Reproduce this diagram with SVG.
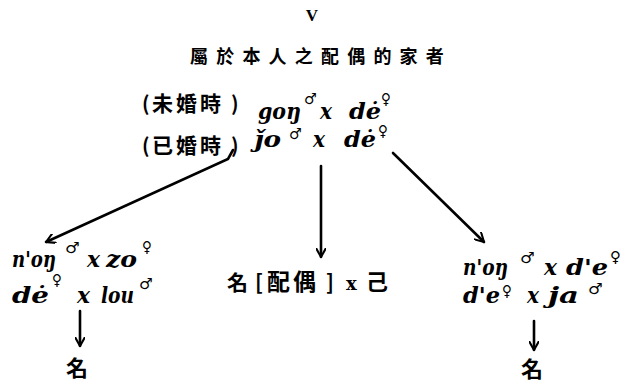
<svg xmlns="http://www.w3.org/2000/svg" width="623" height="383" viewBox="0 0 623 383">
<style>
.r{font-family:"DejaVu Serif",serif;font-style:italic;font-weight:bold;font-size:22px;fill:#000}
.s{font-family:"DejaVu Sans",sans-serif;font-weight:bold;font-size:15px;fill:#000}
.c{font-family:"Noto Sans CJK TC","Noto Sans CJK SC",sans-serif;font-weight:bold;fill:#000}
.ln{stroke:#000;stroke-width:2.6;fill:none;stroke-linecap:round}
</style>
<defs>
<marker id="ah" viewBox="0 0 10 10" refX="9" refY="5" markerWidth="4" markerHeight="4" orient="auto" markerUnits="strokeWidth">
<path d="M0,0 L9,5 L0,10" fill="none" stroke="#000" stroke-width="2"/>
</marker>
</defs>
<g id="title">
<text x="312" y="21" text-anchor="middle" style="font-family:'Liberation Serif',serif;font-weight:bold;font-size:17px">V</text>
<text class="c" x="190" y="63" style="font-size:18px;letter-spacing:8.2px">屬於本人之配偶的家者</text>
</g>
<g id="top">
<text class="c" x="142" y="111" style="font-size:20px">(</text>
<text class="c" x="152" y="111" style="font-size:21px;letter-spacing:3px">未婚時</text>
<text class="c" x="231" y="111" style="font-size:20px">)</text>
<text class="c" x="142" y="153" style="font-size:20px">(</text>
<text class="c" x="152" y="153" style="font-size:21px;letter-spacing:3px">已婚時</text>
<text class="c" x="231" y="153" style="font-size:20px">)</text>
<text class="r" x="258" y="119" textLength="43" lengthAdjust="spacingAndGlyphs">goŋ</text>
<text class="s" x="304" y="104" textLength="13" lengthAdjust="spacingAndGlyphs">♂</text>
<text class="r" x="320" y="119" textLength="12" lengthAdjust="spacingAndGlyphs">x</text>
<text class="r" x="349" y="119" textLength="32" lengthAdjust="spacingAndGlyphs">dė</text>
<text class="s" x="381" y="104" textLength="10" lengthAdjust="spacingAndGlyphs">♀</text>
<text class="r" x="254" y="147" textLength="27" lengthAdjust="spacingAndGlyphs">ǰo</text>
<text class="s" x="289" y="139" textLength="13" lengthAdjust="spacingAndGlyphs">♂</text>
<text class="r" x="313" y="147" textLength="12" lengthAdjust="spacingAndGlyphs">x</text>
<text class="r" x="344" y="147" textLength="32" lengthAdjust="spacingAndGlyphs">dė</text>
<text class="s" x="378" y="136" textLength="10" lengthAdjust="spacingAndGlyphs">♀</text>
</g>
<g id="left">
<text class="r" x="12" y="267" textLength="44" lengthAdjust="spacingAndGlyphs">n'oŋ</text>
<text class="s" x="65" y="253" textLength="15" lengthAdjust="spacingAndGlyphs">♂</text>
<text class="r" x="87" y="267" textLength="13" lengthAdjust="spacingAndGlyphs">x</text>
<text class="r" x="106" y="267" textLength="31" lengthAdjust="spacingAndGlyphs">zo</text>
<text class="s" x="142" y="252" textLength="10" lengthAdjust="spacingAndGlyphs">♀</text>
<text class="r" x="12" y="303" textLength="37" lengthAdjust="spacingAndGlyphs">dė</text>
<text class="s" x="52" y="285" textLength="10" lengthAdjust="spacingAndGlyphs">♀</text>
<text class="r" x="77" y="303" textLength="13" lengthAdjust="spacingAndGlyphs">x</text>
<text class="r" x="101" y="303" textLength="33" lengthAdjust="spacingAndGlyphs">lou</text>
<text class="s" x="139" y="289" textLength="14" lengthAdjust="spacingAndGlyphs">♂</text>
<text class="c" x="66" y="376" style="font-size:22px">名</text>
</g>
<g id="center">
<text class="c" x="227" y="290" style="font-size:21px">名</text>
<text class="c" x="255" y="290" style="font-size:21px">[</text>
<text class="c" x="267" y="290" style="font-size:23px;letter-spacing:3px">配偶</text>
<text class="c" x="326" y="290" style="font-size:21px">]</text>
<text class="r" x="346" y="290" style="font-style:normal;font-size:18px">x</text>
<text class="c" x="366" y="290" style="font-size:22px">己</text>
</g>
<g id="right">
<text class="r" x="463" y="275" textLength="45" lengthAdjust="spacingAndGlyphs">n'oŋ</text>
<text class="s" x="520" y="263" textLength="15" lengthAdjust="spacingAndGlyphs">♂</text>
<text class="r" x="544" y="275" textLength="13" lengthAdjust="spacingAndGlyphs">x</text>
<text class="r" x="566" y="275" textLength="42" lengthAdjust="spacingAndGlyphs">d'e</text>
<text class="s" x="610" y="262" textLength="11" lengthAdjust="spacingAndGlyphs">♀</text>
<text class="r" x="463" y="303" textLength="37" lengthAdjust="spacingAndGlyphs">d'e</text>
<text class="s" x="502" y="296" textLength="10" lengthAdjust="spacingAndGlyphs">♀</text>
<text class="r" x="527" y="303" textLength="12" lengthAdjust="spacingAndGlyphs">x</text>
<text class="r" x="548" y="303" textLength="31" lengthAdjust="spacingAndGlyphs">ja</text>
<text class="s" x="588" y="294" textLength="15" lengthAdjust="spacingAndGlyphs">♂</text>
<text class="c" x="521" y="377" style="font-size:22px">名</text>
</g>
<g id="connectors">
<path class="ln" d="M233,150 L228,159 L46,242" marker-end="url(#ah)"/>
<path class="ln" d="M321,166 L321,257" marker-end="url(#ah)"/>
<path class="ln" d="M393,153 L484,242" marker-end="url(#ah)"/>
<path class="ln" d="M80,311 L80,346" marker-end="url(#ah)"/>
<path class="ln" d="M534,321 L534,350" marker-end="url(#ah)"/>
</g>
</svg>
